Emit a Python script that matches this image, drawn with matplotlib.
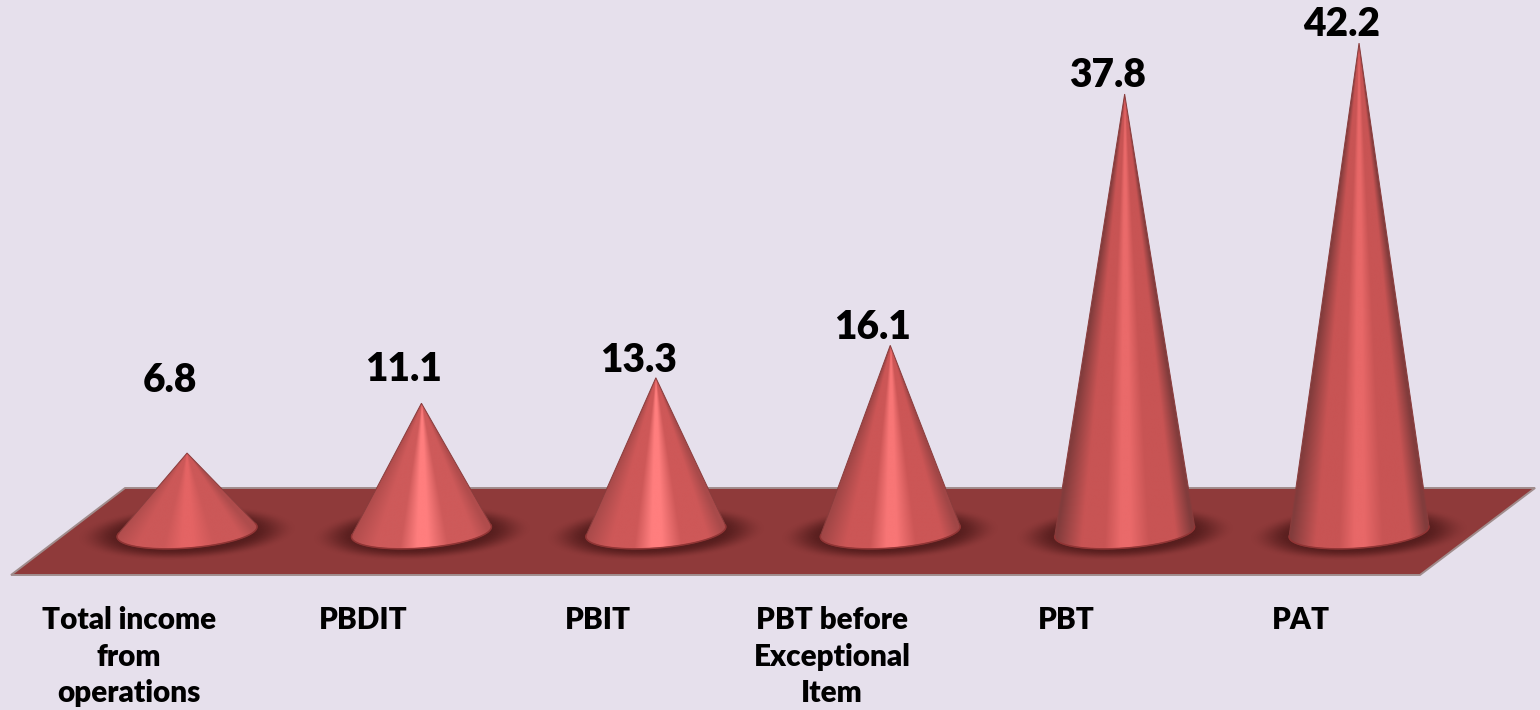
import numpy as np
import matplotlib
matplotlib.use("Agg")
import matplotlib.pyplot as plt
from matplotlib.colors import to_rgb
from matplotlib.patches import Polygon

categories = [
    "Total income\nfrom\noperations",
    "PBDIT",
    "PBIT",
    "PBT before\nExceptional\nItem",
    "PBT",
    "PAT",
]
values = [6.8, 11.1, 13.3, 16.1, 37.8, 42.2]

# colours across each cone: rim, body, highlight
rim_colors = ["#AE4C4C", "#B04C4C", "#A84A4A", "#A04646", "#823C3C", "#823C3C"]
body_colors = ["#CC5858", "#CE5A5A", "#CE5858", "#CC5656", "#C85454", "#C85454"]
peak_colors = ["#E46464", "#FF7E7E", "#FF7E7E", "#F87676", "#EA6A6A", "#E86868"]

# lift of the value labels above the apex, in value units
label_lift = [6.3, 2.95, 1.55, 1.55, 1.6, 1.6]

BG = "#E6E0EC"
FLOOR = "#8F3A3A"
FLOOR_EDGE = "#A08C8C"
SHADOW = "#551D1D"

fig = plt.figure(figsize=(15.4, 7.1), dpi=100, facecolor=BG)
ax = fig.add_axes([0, 0, 1, 1])
ax.set_facecolor(BG)
ax.axis("off")

# x axis runs in category positions, y axis in chart values
xlim = (-0.798, 5.772)
ylim = (-15.39, 45.92)
BASE_W = 0.2986    # half width of a cone base
BASE_H = 1.41      # half height of the base ellipse
BASE_TILT = 0.43   # the ellipse leans up to the right

floor_xy = [(-0.2645, 3.78), (5.751, 3.78), (5.26, -3.73), (-0.751, -3.73)]
floor = Polygon(floor_xy, closed=True, facecolor=FLOOR, edgecolor=FLOOR_EDGE,
                linewidth=1.4, zorder=1)
ax.add_patch(floor)


def shadow_image(xc):
    xs = np.linspace(xc - 0.52, xc + 0.52, 240)
    ys = np.linspace(-3.7, 3.7, 140)
    gx, gy = np.meshgrid(xs, ys)
    dx = (gx - xc) / 0.47
    dy = (gy + 0.1 - BASE_TILT * dx) / 2.35
    r = np.sqrt(dx ** 2 + dy ** 2)
    a = np.clip((1 - r) / 0.4, 0, 1)
    a = a * a * (3 - 2 * a) * 0.96
    rgba = np.zeros(gx.shape + (4,))
    rgba[..., :3] = to_rgb(SHADOW)
    rgba[..., 3] = a
    return rgba, (xs[0], xs[-1], ys[0], ys[-1])


def cone_outline(xc, top):
    t = np.linspace(np.pi - 0.6, 2 * np.pi + 0.6, 300)
    ex = BASE_W * np.cos(t)
    ey = BASE_H * np.sin(t) + BASE_TILT * np.cos(t)
    u = ex / (top - ey)
    i0, i1 = np.argmin(u), np.argmax(u)
    arc = np.column_stack([xc + ex[i0:i1 + 1], ey[i0:i1 + 1]])
    return np.vstack([[xc, top], arc]), arc


def cone_image(xc, top, rim, body, peak):
    xs = np.linspace(xc - BASE_W - 0.02, xc + BASE_W + 0.02, 320)
    ys = np.linspace(-BASE_H - 0.6, top, 520)
    gx, gy = np.meshgrid(xs, ys)
    half = np.maximum(BASE_W * (top - gy) / top, 1e-4)
    u = np.clip((gx - xc) / half, -1.1, 1.1)
    stops = [-1.1, -0.96, -0.6, -0.28, -0.06, 0.08, 0.34, 0.72, 0.96, 1.1]
    cols = [rim, rim, body, body, peak, peak, body, body, rim, rim]
    rgb = np.stack([np.interp(u, stops, [to_rgb(c)[k] for c in cols]) for k in range(3)], axis=-1)
    return rgb, (xs[0], xs[-1], ys[0], ys[-1])


for i, val in enumerate(values):
    rgba, ext = shadow_image(i)
    im = ax.imshow(rgba, extent=ext, origin="lower", aspect="auto", interpolation="bilinear", zorder=2)
    im.set_clip_path(floor)

for i, val in enumerate(values):
    outline, arc = cone_outline(i, val)
    clip = Polygon(outline, closed=True, transform=ax.transData, facecolor="none",
                   edgecolor="#8A3C3C", linewidth=0.7, zorder=3.4)
    ax.add_patch(clip)
    rgb, ext = cone_image(i, val, rim_colors[i], body_colors[i], peak_colors[i])
    im = ax.imshow(rgb, extent=ext, origin="lower", aspect="auto", interpolation="bilinear", zorder=3)
    im.set_clip_path(clip)
    ax.plot(arc[:, 0], arc[:, 1], color="#933434", linewidth=1.1, alpha=0.85, zorder=3.5)

    ax.text(i - 0.075, val + label_lift[i] - 0.02, f"{val:.1f}", ha="center", va="center",
            fontsize=28, fontweight="heavy", family="Lato", color="black", zorder=5)
    ax.text(i - 0.2475, -6.4, categories[i], ha="center", va="top", fontsize=21.3,
            fontweight="heavy", family="Lato", color="black", linespacing=1.38, zorder=5)

ax.set_xlim(xlim)
ax.set_ylim(ylim)

plt.savefig("out.png", dpi=100, facecolor=BG)
plt.close()
